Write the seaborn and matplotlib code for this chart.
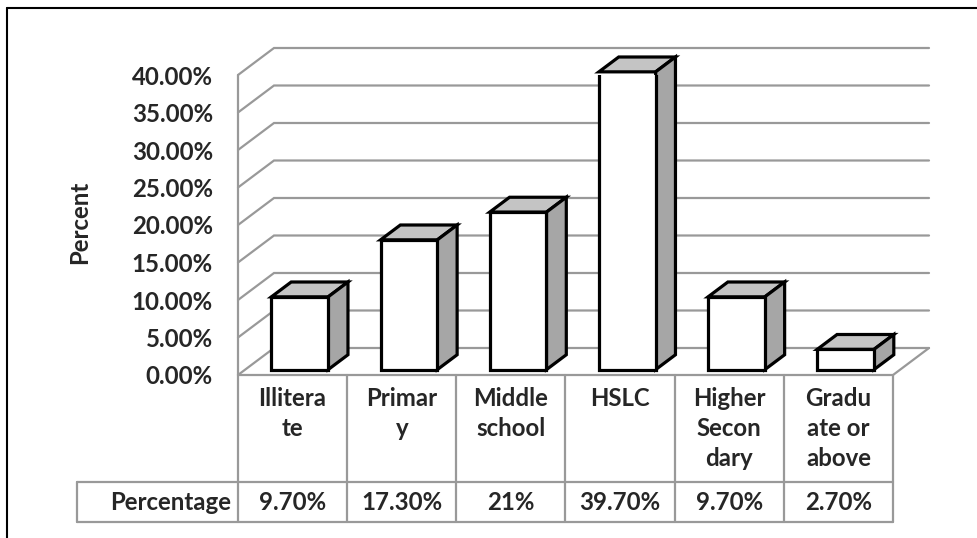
import matplotlib
matplotlib.use('Agg')
import matplotlib.pyplot as plt
import seaborn as sns
import pandas as pd
from matplotlib.patches import Polygon
from matplotlib.lines import Line2D

# data
categories = ['Illiterate', 'Primary', 'Middle school', 'HSLC', 'Higher Secondary', 'Graduate or above']
header_labels = ['Illitera\nte', 'Primar\ny', 'Middle\nschool', 'HSLC', 'Higher\nSecon\ndary', 'Gradu\nate or\nabove']
percentages = [9.7, 17.3, 21.0, 39.7, 9.7, 2.7]
value_labels = ['9.70%', '17.30%', '21%', '39.70%', '9.70%', '2.70%']
y_ticks = [0, 5, 10, 15, 20, 25, 30, 35, 40]
y_tick_labels = [f'{t:.2f}%' for t in y_ticks]
row_label = 'Percentage'
y_title = 'Percent'

W, H, DPI = 978, 538, 100
sns.set_style('white')
plt.rcParams['font.family'] = ['Lato', 'DejaVu Sans']
plt.rcParams['font.weight'] = 'bold'
FS = 17.3
GRID = '#999999'

fig = plt.figure(figsize=(W / DPI, H / DPI), dpi=DPI)
# front plane in pixels: x -0.5..5.5 -> 238..893, y 0..40 -> 375..75
x0, x1, yb, yt = 238, 893, 375, 75
ax = fig.add_axes([x0 / W, (H - yb) / H, (x1 - x0) / W, (yb - yt) / H])
px_x = (x1 - x0) / len(categories)
px_y = (yb - yt) / 40.0

df = pd.DataFrame({'category': categories, 'pct': percentages})
sns.barplot(data=df, x='category', y='pct', color='white', saturation=1,
            edgecolor='black', linewidth=2.3, width=0.52, ax=ax, zorder=5)
ax.set_xlim(-0.5, 5.5)
ax.set_ylim(0, 40)

# depth of the wall/floor and of the bars (pixels -> data units)
dX, dY = 36 / px_x, 27 / px_y
bx, by = 0.55 * dX, 0.55 * dY
fx, fy = 0.2 * dX, 0.2 * dY

# back wall gridlines + side wall slants
for t in y_ticks:
    ax.plot([-0.5, -0.5 + dX, 5.5 + dX], [t, t + dY, t + dY], color=GRID,
            lw=1.6, clip_on=False, zorder=1, solid_joinstyle='miter')
ax.plot([-0.5, -0.5], [0, 40], color=GRID, lw=1.6, clip_on=False, zorder=1)
ax.plot([-0.5, 5.5, 5.5 + dX], [0, 0, dY], color=GRID, lw=1.6, clip_on=False, zorder=1)

# 3d faces of the bars
for p in ax.patches:
    p.set_x(p.get_x() + fx)
    p.set_y(fy)
    x, y, w, h = p.get_x(), p.get_y(), p.get_width(), p.get_height()
    top = [(x, y + h), (x + w, y + h), (x + w + bx, y + h + by), (x + bx, y + h + by)]
    side = [(x + w, y), (x + w + bx, y + by), (x + w + bx, y + h + by), (x + w, y + h)]
    ax.add_patch(Polygon(top, closed=True, facecolor='#c4c4c4', edgecolor='black',
                         lw=2.3, zorder=4, joinstyle='miter', clip_on=False))
    ax.add_patch(Polygon(side, closed=True, facecolor='#a6a6a6', edgecolor='black',
                         lw=2.3, zorder=4, joinstyle='miter', clip_on=False))

ax.set_yticks(y_ticks, y_tick_labels)
ax.tick_params(axis='y', length=0, pad=18, labelsize=FS)
ax.set_xticks([])
ax.set_xlabel('')
ax.set_ylabel('')
for s in ax.spines.values():
    s.set_visible(False)
ax.patch.set_alpha(0)

fig.text(80 / W, 1 - 222 / H, y_title, rotation=90, ha='center', va='center',
         fontsize=FS, fontweight='bold')

# data table below the chart
def dy(px):
    return (yb - px) / px_y

def dx(px):
    return (px - x0) / px_x - 0.5

r1, r2 = dy(482), dy(522)
left_cell = dx(77)
for i in range(len(categories) + 1):
    ax.plot([i - 0.5, i - 0.5], [0, r2], color=GRID, lw=1.6, clip_on=False, zorder=1)
ax.plot([left_cell, 5.5], [r1, r1], color=GRID, lw=1.6, clip_on=False, zorder=1)
ax.plot([left_cell, 5.5], [r2, r2], color=GRID, lw=1.6, clip_on=False, zorder=1)
ax.plot([left_cell, left_cell], [r1, r2], color=GRID, lw=1.6, clip_on=False, zorder=1)

for i, (lab, val) in enumerate(zip(header_labels, value_labels)):
    ax.text(i, dy(387), lab, ha='center', va='top', fontsize=FS, linespacing=1.38,
            fontweight='bold', clip_on=False)
    ax.text(i, dy(503), val, ha='center', va='center', fontsize=FS,
            fontweight='bold', clip_on=False)
ax.text(dx(231), dy(503), row_label, ha='right', va='center', fontsize=FS,
        fontweight='bold', clip_on=False)

# chart frame
fig.add_artist(Line2D([7 / W, 1], [1 - 8 / H, 1 - 8 / H], transform=fig.transFigure,
                      color='black', lw=1.5))
fig.add_artist(Line2D([7 / W, 7 / W], [0, 1 - 8 / H], transform=fig.transFigure,
                      color='black', lw=1.5))

fig.savefig('out.png', dpi=DPI)
